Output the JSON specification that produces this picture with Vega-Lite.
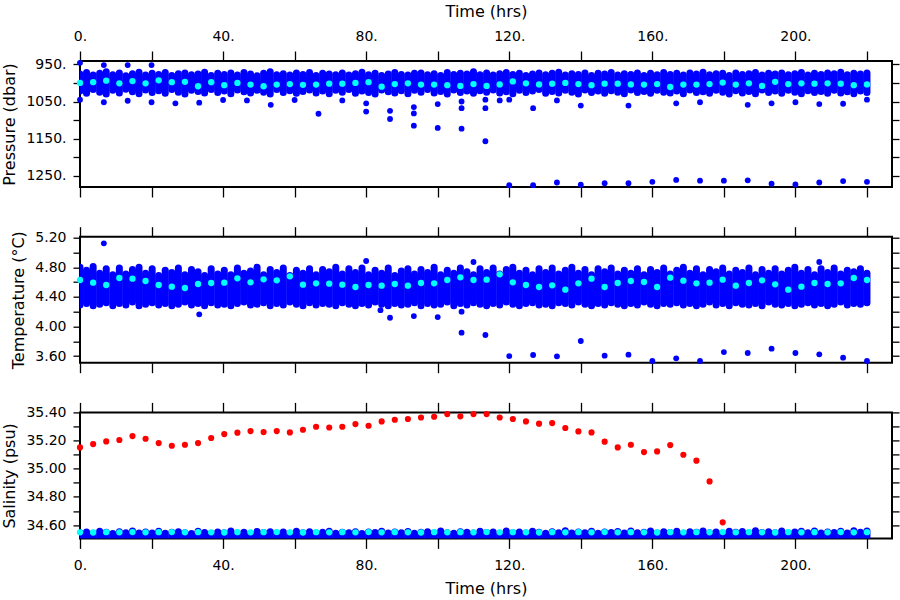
{
  "$schema": "https://vega.github.io/schema/vega-lite/v6.json",
  "padding": {"left": 0, "top": 2, "right": 0, "bottom": 0},
  "background": "white",
  "spacing": 49.7,
  "bounds": "flush",
  "config": {
    "view": {"stroke": "black", "strokeWidth": 2},
    "axis": {"labelFont": "DejaVu Sans", "labelFontSize": 14, "labelColor": "black", "titleFont": "DejaVu Sans", "titleFontSize": 16, "titleFontWeight": "normal", "titleColor": "black", "tickColor": "black", "tickWidth": 1.3, "grid": false, "domain": false, "labelOverlap": false, "labelFlush": false}
  },
  "datasets": {
    "band": [
      {"t":0,"plo":976,"phi":1022,"tlo":4.29,"thi":4.80,"shi":34.545},
      {"t":1.83,"plo":972,"phi":1028,"tlo":4.31,"thi":4.76,"shi":34.550},
      {"t":3.67,"plo":979,"phi":1018,"tlo":4.28,"thi":4.81,"shi":34.542},
      {"t":5.5,"plo":974,"phi":1025,"tlo":4.30,"thi":4.72,"shi":34.555},
      {"t":7.33,"plo":970,"phi":1030,"tlo":4.32,"thi":4.78,"shi":34.548},
      {"t":9.17,"plo":978,"phi":1020,"tlo":4.28,"thi":4.70,"shi":34.540},
      {"t":11,"plo":973,"phi":1027,"tlo":4.31,"thi":4.79,"shi":34.552},
      {"t":12.83,"plo":981,"phi":1017,"tlo":4.29,"thi":4.71,"shi":34.546},
      {"t":14.67,"plo":975,"phi":1024,"tlo":4.33,"thi":4.77,"shi":34.558},
      {"t":16.5,"plo":971,"phi":1029,"tlo":4.28,"thi":4.80,"shi":34.543},
      {"t":18.33,"plo":979,"phi":1019,"tlo":4.30,"thi":4.72,"shi":34.550},
      {"t":20.17,"plo":974,"phi":1026,"tlo":4.32,"thi":4.78,"shi":34.544},
      {"t":22,"plo":977,"phi":1021,"tlo":4.29,"thi":4.69,"shi":34.556},
      {"t":23.83,"plo":972,"phi":1028,"tlo":4.31,"thi":4.76,"shi":34.541},
      {"t":25.67,"plo":980,"phi":1018,"tlo":4.28,"thi":4.73,"shi":34.549},
      {"t":27.5,"plo":975,"phi":1025,"tlo":4.30,"thi":4.79,"shi":34.553},
      {"t":29.33,"plo":973,"phi":1030,"tlo":4.33,"thi":4.70,"shi":34.545},
      {"t":31.17,"plo":978,"phi":1020,"tlo":4.29,"thi":4.77,"shi":34.540},
      {"t":33,"plo":976,"phi":1023,"tlo":4.31,"thi":4.74,"shi":34.555},
      {"t":34.83,"plo":971,"phi":1027,"tlo":4.28,"thi":4.69,"shi":34.547},
      {"t":36.67,"plo":980,"phi":1018,"tlo":4.32,"thi":4.78,"shi":34.542},
      {"t":38.5,"plo":974,"phi":1026,"tlo":4.29,"thi":4.71,"shi":34.551},
      {"t":40.33,"plo":977,"phi":1022,"tlo":4.30,"thi":4.76,"shi":34.546},
      {"t":42.17,"plo":973,"phi":1029,"tlo":4.28,"thi":4.70,"shi":34.557},
      {"t":44,"plo":979,"phi":1019,"tlo":4.31,"thi":4.79,"shi":34.543},
      {"t":45.83,"plo":972,"phi":1024,"tlo":4.33,"thi":4.72,"shi":34.549},
      {"t":47.67,"plo":976,"phi":1027,"tlo":4.29,"thi":4.75,"shi":34.540},
      {"t":49.5,"plo":981,"phi":1020,"tlo":4.30,"thi":4.80,"shi":34.554},
      {"t":51.33,"plo":974,"phi":1025,"tlo":4.32,"thi":4.70,"shi":34.547},
      {"t":53.17,"plo":970,"phi":1030,"tlo":4.28,"thi":4.77,"shi":34.552},
      {"t":55,"plo":978,"phi":1018,"tlo":4.31,"thi":4.73,"shi":34.544},
      {"t":56.83,"plo":975,"phi":1026,"tlo":4.29,"thi":4.79,"shi":34.550},
      {"t":58.67,"plo":979,"phi":1021,"tlo":4.33,"thi":4.69,"shi":34.541},
      {"t":60.5,"plo":973,"phi":1028,"tlo":4.30,"thi":4.76,"shi":34.556},
      {"t":62.33,"plo":977,"phi":1023,"tlo":4.28,"thi":4.72,"shi":34.546},
      {"t":64.17,"plo":972,"phi":1019,"tlo":4.32,"thi":4.78,"shi":34.552},
      {"t":66,"plo":980,"phi":1027,"tlo":4.29,"thi":4.70,"shi":34.543},
      {"t":67.83,"plo":974,"phi":1022,"tlo":4.31,"thi":4.77,"shi":34.548},
      {"t":69.67,"plo":976,"phi":1029,"tlo":4.30,"thi":4.74,"shi":34.555},
      {"t":71.5,"plo":978,"phi":1020,"tlo":4.28,"thi":4.80,"shi":34.541},
      {"t":73.33,"plo":973,"phi":1025,"tlo":4.32,"thi":4.71,"shi":34.549},
      {"t":75.17,"plo":979,"phi":1018,"tlo":4.30,"thi":4.78,"shi":34.545},
      {"t":77,"plo":975,"phi":1028,"tlo":4.28,"thi":4.73,"shi":34.553},
      {"t":78.83,"plo":971,"phi":1022,"tlo":4.31,"thi":4.79,"shi":34.540},
      {"t":80.67,"plo":978,"phi":1026,"tlo":4.29,"thi":4.70,"shi":34.551},
      {"t":82.5,"plo":974,"phi":1030,"tlo":4.33,"thi":4.76,"shi":34.547},
      {"t":84.33,"plo":980,"phi":1019,"tlo":4.30,"thi":4.72,"shi":34.556},
      {"t":86.17,"plo":976,"phi":1024,"tlo":4.28,"thi":4.79,"shi":34.543},
      {"t":88,"plo":972,"phi":1027,"tlo":4.31,"thi":4.69,"shi":34.550},
      {"t":89.83,"plo":977,"phi":1021,"tlo":4.29,"thi":4.75,"shi":34.545},
      {"t":91.67,"plo":979,"phi":1029,"tlo":4.30,"thi":4.78,"shi":34.554},
      {"t":93.5,"plo":974,"phi":1020,"tlo":4.32,"thi":4.71,"shi":34.542},
      {"t":95.33,"plo":973,"phi":1025,"tlo":4.28,"thi":4.77,"shi":34.548},
      {"t":97.17,"plo":978,"phi":1018,"tlo":4.31,"thi":4.73,"shi":34.552},
      {"t":99,"plo":975,"phi":1027,"tlo":4.29,"thi":4.80,"shi":34.544},
      {"t":100.83,"plo":980,"phi":1023,"tlo":4.30,"thi":4.70,"shi":34.557},
      {"t":102.67,"plo":972,"phi":1030,"tlo":4.33,"thi":4.76,"shi":34.546},
      {"t":104.5,"plo":977,"phi":1019,"tlo":4.28,"thi":4.72,"shi":34.541},
      {"t":106.33,"plo":974,"phi":1026,"tlo":4.31,"thi":4.79,"shi":34.553},
      {"t":108.17,"plo":976,"phi":1022,"tlo":4.29,"thi":4.74,"shi":34.548},
      {"t":110,"plo":970,"phi":1028,"tlo":4.32,"thi":4.70,"shi":34.543},
      {"t":111.83,"plo":978,"phi":1021,"tlo":4.30,"thi":4.78,"shi":34.555},
      {"t":113.67,"plo":973,"phi":1025,"tlo":4.28,"thi":4.73,"shi":34.547},
      {"t":115.5,"plo":979,"phi":1019,"tlo":4.31,"thi":4.79,"shi":34.551},
      {"t":117.33,"plo":975,"phi":1027,"tlo":4.29,"thi":4.71,"shi":34.542},
      {"t":119.17,"plo":972,"phi":1024,"tlo":4.33,"thi":4.77,"shi":34.558},
      {"t":121,"plo":977,"phi":1029,"tlo":4.30,"thi":4.80,"shi":34.545},
      {"t":122.83,"plo":974,"phi":1020,"tlo":4.28,"thi":4.72,"shi":34.550},
      {"t":124.67,"plo":980,"phi":1026,"tlo":4.31,"thi":4.76,"shi":34.544},
      {"t":126.5,"plo":976,"phi":1022,"tlo":4.32,"thi":4.70,"shi":34.556},
      {"t":128.33,"plo":973,"phi":1018,"tlo":4.29,"thi":4.78,"shi":34.548},
      {"t":130.17,"plo":978,"phi":1028,"tlo":4.30,"thi":4.73,"shi":34.541},
      {"t":132,"plo":974,"phi":1023,"tlo":4.28,"thi":4.79,"shi":34.553},
      {"t":133.83,"plo":971,"phi":1027,"tlo":4.32,"thi":4.71,"shi":34.546},
      {"t":135.67,"plo":979,"phi":1020,"tlo":4.31,"thi":4.76,"shi":34.559},
      {"t":137.5,"plo":975,"phi":1025,"tlo":4.29,"thi":4.80,"shi":34.543},
      {"t":139.33,"plo":977,"phi":1030,"tlo":4.33,"thi":4.72,"shi":34.550},
      {"t":141.17,"plo":973,"phi":1019,"tlo":4.30,"thi":4.77,"shi":34.545},
      {"t":143,"plo":980,"phi":1026,"tlo":4.28,"thi":4.70,"shi":34.556},
      {"t":144.83,"plo":974,"phi":1022,"tlo":4.31,"thi":4.78,"shi":34.542},
      {"t":146.67,"plo":976,"phi":1028,"tlo":4.29,"thi":4.74,"shi":34.551},
      {"t":148.5,"plo":972,"phi":1021,"tlo":4.32,"thi":4.79,"shi":34.547},
      {"t":150.33,"plo":979,"phi":1025,"tlo":4.30,"thi":4.71,"shi":34.554},
      {"t":152.17,"plo":975,"phi":1029,"tlo":4.28,"thi":4.76,"shi":34.543},
      {"t":154,"plo":977,"phi":1019,"tlo":4.31,"thi":4.72,"shi":34.557},
      {"t":155.83,"plo":973,"phi":1026,"tlo":4.29,"thi":4.78,"shi":34.546},
      {"t":157.67,"plo":980,"phi":1023,"tlo":4.33,"thi":4.70,"shi":34.549},
      {"t":159.5,"plo":974,"phi":1028,"tlo":4.30,"thi":4.77,"shi":34.558},
      {"t":161.33,"plo":978,"phi":1020,"tlo":4.28,"thi":4.73,"shi":34.544},
      {"t":163.17,"plo":972,"phi":1025,"tlo":4.31,"thi":4.79,"shi":34.552},
      {"t":165,"plo":977,"phi":1027,"tlo":4.30,"thi":4.71,"shi":34.547},
      {"t":166.83,"plo":974,"phi":1022,"tlo":4.32,"thi":4.76,"shi":34.555},
      {"t":168.67,"plo":979,"phi":1029,"tlo":4.29,"thi":4.80,"shi":34.542},
      {"t":170.5,"plo":973,"phi":1019,"tlo":4.31,"thi":4.72,"shi":34.553},
      {"t":172.33,"plo":976,"phi":1026,"tlo":4.28,"thi":4.78,"shi":34.548},
      {"t":174.17,"plo":971,"phi":1024,"tlo":4.30,"thi":4.70,"shi":34.558},
      {"t":176,"plo":978,"phi":1028,"tlo":4.33,"thi":4.77,"shi":34.545},
      {"t":177.83,"plo":975,"phi":1020,"tlo":4.29,"thi":4.74,"shi":34.551},
      {"t":179.67,"plo":974,"phi":1025,"tlo":4.31,"thi":4.79,"shi":34.543},
      {"t":181.5,"plo":980,"phi":1030,"tlo":4.28,"thi":4.71,"shi":34.556},
      {"t":183.33,"plo":973,"phi":1021,"tlo":4.32,"thi":4.76,"shi":34.549},
      {"t":185.17,"plo":977,"phi":1027,"tlo":4.30,"thi":4.73,"shi":34.554},
      {"t":187,"plo":975,"phi":1023,"tlo":4.29,"thi":4.79,"shi":34.544},
      {"t":188.83,"plo":972,"phi":1029,"tlo":4.31,"thi":4.70,"shi":34.559},
      {"t":190.67,"plo":979,"phi":1019,"tlo":4.28,"thi":4.77,"shi":34.547},
      {"t":192.5,"plo":974,"phi":1026,"tlo":4.33,"thi":4.72,"shi":34.552},
      {"t":194.33,"plo":976,"phi":1022,"tlo":4.30,"thi":4.78,"shi":34.545},
      {"t":196.17,"plo":973,"phi":1028,"tlo":4.29,"thi":4.71,"shi":34.557},
      {"t":198,"plo":978,"phi":1020,"tlo":4.31,"thi":4.76,"shi":34.543},
      {"t":199.83,"plo":975,"phi":1025,"tlo":4.28,"thi":4.80,"shi":34.550},
      {"t":201.67,"plo":972,"phi":1029,"tlo":4.30,"thi":4.72,"shi":34.555},
      {"t":203.5,"plo":979,"phi":1021,"tlo":4.32,"thi":4.77,"shi":34.546},
      {"t":205.33,"plo":974,"phi":1026,"tlo":4.29,"thi":4.70,"shi":34.558},
      {"t":207.17,"plo":977,"phi":1023,"tlo":4.31,"thi":4.78,"shi":34.544},
      {"t":209,"plo":973,"phi":1028,"tlo":4.28,"thi":4.73,"shi":34.551},
      {"t":210.83,"plo":975,"phi":1020,"tlo":4.30,"thi":4.79,"shi":34.547},
      {"t":212.67,"plo":971,"phi":1027,"tlo":4.33,"thi":4.71,"shi":34.556},
      {"t":214.5,"plo":978,"phi":1024,"tlo":4.29,"thi":4.76,"shi":34.543},
      {"t":216.33,"plo":974,"phi":1029,"tlo":4.31,"thi":4.74,"shi":34.559},
      {"t":218.17,"plo":976,"phi":1022,"tlo":4.30,"thi":4.78,"shi":34.548},
      {"t":220,"plo":973,"phi":1026,"tlo":4.32,"thi":4.72,"shi":34.557}
    ],
    "cyan": [
      {"t":0,"p":1000,"tc":4.628,"s":34.548},
      {"t":3.67,"p":998,"tc":4.592,"s":34.547},
      {"t":7.33,"p":994,"tc":4.56,"s":34.549},
      {"t":11,"p":1001,"tc":4.655,"s":34.548},
      {"t":14.67,"p":995,"tc":4.646,"s":34.55},
      {"t":18.33,"p":1001,"tc":4.614,"s":34.548},
      {"t":22,"p":993,"tc":4.56,"s":34.549},
      {"t":25.67,"p":998,"tc":4.538,"s":34.55},
      {"t":29.33,"p":997,"tc":4.52,"s":34.548},
      {"t":33,"p":1009,"tc":4.574,"s":34.549},
      {"t":36.67,"p":998,"tc":4.587,"s":34.548},
      {"t":40.33,"p":1006,"tc":4.592,"s":34.547},
      {"t":44,"p":1000,"tc":4.65,"s":34.549},
      {"t":47.67,"p":1004.5,"tc":4.596,"s":34.548},
      {"t":51.33,"p":1009,"tc":4.637,"s":34.549},
      {"t":55,"p":1004.5,"tc":4.623,"s":34.55},
      {"t":58.67,"p":1003,"tc":4.677,"s":34.548},
      {"t":62.33,"p":1005,"tc":4.565,"s":34.547},
      {"t":66,"p":1004.5,"tc":4.583,"s":34.549},
      {"t":69.67,"p":1002,"tc":4.578,"s":34.548},
      {"t":73.33,"p":1002,"tc":4.565,"s":34.549},
      {"t":77,"p":1000,"tc":4.533,"s":34.548},
      {"t":80.67,"p":998,"tc":4.56,"s":34.55},
      {"t":84.33,"p":1010,"tc":4.551,"s":34.548},
      {"t":88,"p":1003,"tc":4.574,"s":34.549},
      {"t":91.67,"p":1001,"tc":4.551,"s":34.548},
      {"t":95.33,"p":1004.5,"tc":4.587,"s":34.547},
      {"t":99,"p":1004.5,"tc":4.583,"s":34.549},
      {"t":102.67,"p":1006,"tc":4.628,"s":34.548},
      {"t":106.33,"p":1008,"tc":4.664,"s":34.549},
      {"t":110,"p":1003,"tc":4.628,"s":34.548},
      {"t":113.67,"p":1008,"tc":4.632,"s":34.55},
      {"t":117.33,"p":1004,"tc":4.704,"s":34.548},
      {"t":121,"p":996,"tc":4.596,"s":34.549},
      {"t":124.67,"p":1001,"tc":4.56,"s":34.548},
      {"t":128.33,"p":1004,"tc":4.533,"s":34.547},
      {"t":132,"p":1002,"tc":4.556,"s":34.549},
      {"t":135.67,"p":1000,"tc":4.497,"s":34.548},
      {"t":139.33,"p":1003,"tc":4.583,"s":34.549},
      {"t":143,"p":1006,"tc":4.646,"s":34.548},
      {"t":146.67,"p":1002,"tc":4.533,"s":34.55},
      {"t":150.33,"p":1002,"tc":4.587,"s":34.548},
      {"t":154,"p":1004,"tc":4.614,"s":34.549},
      {"t":157.67,"p":1004.5,"tc":4.601,"s":34.548},
      {"t":161.33,"p":1003,"tc":4.533,"s":34.547},
      {"t":165,"p":1011,"tc":4.659,"s":34.549},
      {"t":168.67,"p":1004.5,"tc":4.619,"s":34.548},
      {"t":172.33,"p":1004.5,"tc":4.583,"s":34.549},
      {"t":176,"p":1003,"tc":4.592,"s":34.548},
      {"t":179.67,"p":999,"tc":4.632,"s":34.55},
      {"t":183.33,"p":1004.5,"tc":4.551,"s":34.548},
      {"t":187,"p":1001,"tc":4.587,"s":34.549},
      {"t":190.67,"p":1008,"tc":4.623,"s":34.548},
      {"t":194.33,"p":997,"tc":4.569,"s":34.547},
      {"t":198,"p":1003,"tc":4.497,"s":34.549},
      {"t":201.67,"p":1001,"tc":4.538,"s":34.548},
      {"t":205.33,"p":1002,"tc":4.587,"s":34.549},
      {"t":209,"p":1001,"tc":4.574,"s":34.548},
      {"t":212.67,"p":1002,"tc":4.583,"s":34.55},
      {"t":216.33,"p":1006,"tc":4.655,"s":34.548},
      {"t":220,"p":1004,"tc":4.628,"s":34.549}
    ],
    "red": [
      {"t":0,"s":35.151},{"t":3.67,"s":35.175},{"t":7.33,"s":35.194},{"t":11,"s":35.204},{"t":14.67,"s":35.232},
      {"t":18.33,"s":35.213},{"t":22,"s":35.182},{"t":25.67,"s":35.163},{"t":29.33,"s":35.17},{"t":33,"s":35.182},
      {"t":36.67,"s":35.218},{"t":40.33,"s":35.246},{"t":44,"s":35.256},{"t":47.67,"s":35.267},{"t":51.33,"s":35.26},
      {"t":55,"s":35.267},{"t":58.67,"s":35.258},{"t":62.33,"s":35.277},{"t":66,"s":35.298},{"t":69.67,"s":35.293},
      {"t":73.33,"s":35.298},{"t":77,"s":35.317},{"t":80.67,"s":35.305},{"t":84.33,"s":35.336},{"t":88,"s":35.348},
      {"t":91.67,"s":35.353},{"t":95.33,"s":35.364},{"t":99,"s":35.369},{"t":102.67,"s":35.388},{"t":106.33,"s":35.372},
      {"t":110,"s":35.388},{"t":113.67,"s":35.388},{"t":117.33,"s":35.364},{"t":121,"s":35.353},{"t":124.67,"s":35.336},
      {"t":128.33,"s":35.32},{"t":132,"s":35.324},{"t":135.67,"s":35.289},{"t":139.33,"s":35.265},{"t":143,"s":35.258},
      {"t":146.67,"s":35.192},{"t":150.33,"s":35.151},{"t":154,"s":35.17},{"t":157.67,"s":35.118},{"t":161.33,"s":35.123},
      {"t":165,"s":35.168},{"t":168.67,"s":35.099},{"t":172.33,"s":35.057},{"t":176,"s":34.91},{"t":179.67,"s":34.619}
    ],
    "pout": [
      {"t":0,"p":946},{"t":0,"p":1045},{"t":6.67,"p":952},{"t":6.67,"p":1052},{"t":13.33,"p":952},{"t":13.33,"p":1048},
      {"t":20,"p":952},{"t":20,"p":1052},{"t":26.67,"p":1055},{"t":33.33,"p":1053},{"t":40,"p":1046},{"t":46.67,"p":1047},
      {"t":53.33,"p":1059},{"t":60,"p":1046},{"t":66.67,"p":1083},{"t":73.33,"p":1047},{"t":80,"p":1077},{"t":80,"p":1055},
      {"t":86.67,"p":1097},{"t":86.67,"p":1075},{"t":93.33,"p":1115},{"t":93.33,"p":1082},{"t":93.33,"p":1065},
      {"t":100,"p":1121},{"t":100,"p":1057},{"t":106.67,"p":1123},{"t":106.67,"p":1068},{"t":106.67,"p":1050},
      {"t":113.33,"p":1157},{"t":113.33,"p":1068},{"t":113.33,"p":1045},{"t":117.33,"p":1047},
      {"t":120,"p":1275},{"t":120,"p":1045},{"t":126.67,"p":1275},{"t":126.67,"p":1068},{"t":133.33,"p":1268},{"t":133.33,"p":1047},
      {"t":140,"p":1274},{"t":140,"p":1061},{"t":146.67,"p":1270},{"t":153.33,"p":1270},{"t":153.33,"p":1061},
      {"t":160,"p":1266},{"t":166.67,"p":1261},{"t":166.67,"p":1055},{"t":173.33,"p":1263},{"t":173.33,"p":1052},
      {"t":180,"p":1263},{"t":186.67,"p":1262},{"t":186.67,"p":1059},{"t":193.33,"p":1271},{"t":193.33,"p":1055},
      {"t":200,"p":1273},{"t":200,"p":1052},{"t":206.67,"p":1268},{"t":206.67,"p":1057},{"t":213.33,"p":1264},{"t":213.33,"p":1056},
      {"t":220,"p":1266},{"t":220,"p":1045}
    ],
    "tout": [
      {"t":6.67,"v":5.123},{"t":33.33,"v":4.164},{"t":80,"v":4.885},{"t":84,"v":4.22},{"t":86.67,"v":4.118},
      {"t":93.33,"v":4.14},{"t":100,"v":4.127},{"t":106.67,"v":3.916},{"t":106.67,"v":4.2},{"t":110,"v":4.871},
      {"t":113.33,"v":3.884},{"t":120,"v":3.6},{"t":126.67,"v":3.614},{"t":133.33,"v":3.596},{"t":140,"v":3.803},
      {"t":146.67,"v":3.605},{"t":153.33,"v":3.619},{"t":160,"v":3.533},{"t":166.67,"v":3.569},{"t":173.33,"v":3.533},
      {"t":180,"v":3.654},{"t":186.67,"v":3.641},{"t":193.33,"v":3.7},{"t":200,"v":3.641},{"t":206.67,"v":3.623},
      {"t":206.67,"v":4.871},{"t":213.33,"v":3.578},{"t":220,"v":3.533}
    ]
  },
  "vconcat": [
    {
      "width": 812, "height": 126,
      "resolve": {"axis": {"x": "independent", "y": "independent"}},
      "layer": [
        {
          "data": {"name": "band"},
          "mark": {"type": "rule", "color": "#0000ff", "strokeWidth": 7, "strokeCap": "round", "clip": true},
          "encoding": {
            "x": {"field": "t", "type": "quantitative", "scale": {"domain": [0, 227], "nice": false, "zero": false},
                  "axis": {"orient": "top", "values": [0,20,40,60,80,100,120,140,160,180,200,220], "labelExpr": "datum.value % 40 == 0 ? datum.value + '.' : ''", "title": "Time (hrs)", "tickSize": 10, "labelPadding": 8, "titlePadding": 10}},
            "y": {"field": "plo", "type": "quantitative", "scale": {"domain": [941, 1280], "reverse": true, "nice": false, "zero": false},
                  "axis": {"orient": "left", "values": [950,1000,1050,1100,1150,1200,1250], "labelExpr": "(datum.value - 950) % 100 == 0 ? datum.value + '.' : ''", "title": "Pressure (dbar)", "tickSize": 7, "labelPadding": 7, "titlePadding": 8}},
            "y2": {"field": "phi"}
          }
        },
        {
          "data": {"name": "pout"},
          "mark": {"type": "circle", "color": "#0000ff", "size": 34, "opacity": 1},
          "encoding": {
            "x": {"field": "t", "type": "quantitative", "scale": {"domain": [0, 227], "nice": false, "zero": false},
                  "axis": {"orient": "bottom", "values": [0,20,40,60,80,100,120,140,160,180,200,220], "labels": false, "title": null, "tickSize": 10}},
            "y": {"field": "p", "type": "quantitative", "scale": {"domain": [941, 1280], "reverse": true, "nice": false, "zero": false},
                  "axis": {"orient": "right", "values": [950,1000,1050,1100,1150,1200,1250], "labels": false, "title": null, "tickSize": 7}}
          }
        },
        {
          "data": {"name": "cyan"},
          "mark": {"type": "circle", "color": "#00ffff", "size": 40, "opacity": 1},
          "encoding": {
            "x": {"field": "t", "type": "quantitative", "scale": {"domain": [0, 227], "nice": false, "zero": false}, "axis": null},
            "y": {"field": "p", "type": "quantitative", "scale": {"domain": [941, 1280], "reverse": true, "nice": false, "zero": false}, "axis": null}
          }
        }
      ]
    },
    {
      "width": 812, "height": 126,
      "resolve": {"axis": {"x": "independent", "y": "independent"}},
      "layer": [
        {
          "data": {"name": "band"},
          "mark": {"type": "rule", "color": "#0000ff", "strokeWidth": 7, "strokeCap": "round", "clip": true},
          "encoding": {
            "x": {"field": "t", "type": "quantitative", "scale": {"domain": [0, 227], "nice": false, "zero": false},
                  "axis": {"orient": "top", "values": [0,20,40,60,80,100,120,140,160,180,200,220], "labels": false, "title": null, "tickSize": 10}},
            "y": {"field": "tlo", "type": "quantitative", "scale": {"domain": [3.51, 5.213], "nice": false, "zero": false},
                  "axis": {"orient": "left", "values": [3.6,3.8,4.0,4.2,4.4,4.6,4.8,5.0,5.2], "labelExpr": "round(datum.value * 10) % 4 == 0 ? format(datum.value, '.2f') : ''", "title": "Temperature (°C)", "tickSize": 7, "labelPadding": 7, "titlePadding": 8}},
            "y2": {"field": "thi"}
          }
        },
        {
          "data": {"name": "tout"},
          "mark": {"type": "circle", "color": "#0000ff", "size": 34, "opacity": 1},
          "encoding": {
            "x": {"field": "t", "type": "quantitative", "scale": {"domain": [0, 227], "nice": false, "zero": false},
                  "axis": {"orient": "bottom", "values": [0,20,40,60,80,100,120,140,160,180,200,220], "labels": false, "title": null, "tickSize": 10}},
            "y": {"field": "v", "type": "quantitative", "scale": {"domain": [3.51, 5.213], "nice": false, "zero": false},
                  "axis": {"orient": "right", "values": [3.6,3.8,4.0,4.2,4.4,4.6,4.8,5.0,5.2], "labels": false, "title": null, "tickSize": 7}}
          }
        },
        {
          "data": {"name": "cyan"},
          "mark": {"type": "circle", "color": "#00ffff", "size": 40, "opacity": 1},
          "encoding": {
            "x": {"field": "t", "type": "quantitative", "scale": {"domain": [0, 227], "nice": false, "zero": false}, "axis": null},
            "y": {"field": "tc", "type": "quantitative", "scale": {"domain": [3.51, 5.213], "nice": false, "zero": false}, "axis": null}
          }
        }
      ]
    },
    {
      "width": 812, "height": 126,
      "resolve": {"axis": {"x": "independent", "y": "independent"}},
      "layer": [
        {
          "data": {"name": "band"},
          "transform": [{"calculate": "34.49", "as": "slo"}],
          "mark": {"type": "rule", "color": "#0000ff", "strokeWidth": 7, "strokeCap": "round", "clip": true},
          "encoding": {
            "x": {"field": "t", "type": "quantitative", "scale": {"domain": [0, 227], "nice": false, "zero": false},
                  "axis": {"orient": "bottom", "values": [0,20,40,60,80,100,120,140,160,180,200,220], "labelExpr": "datum.value % 40 == 0 ? datum.value + '.' : ''", "title": "Time (hrs)", "tickSize": 10, "labelPadding": 10, "titlePadding": 8}},
            "y": {"field": "slo", "type": "quantitative", "scale": {"domain": [34.505, 35.4], "nice": false, "zero": false},
                  "axis": {"orient": "left", "values": [34.6,34.7,34.8,34.9,35.0,35.1,35.2,35.3,35.4], "labelExpr": "round(datum.value * 10) % 2 == 0 ? format(datum.value, '.2f') : ''", "title": "Salinity (psu)", "tickSize": 7, "labelPadding": 7, "titlePadding": 8}},
            "y2": {"field": "shi"}
          }
        },
        {
          "data": {"name": "red"},
          "mark": {"type": "circle", "color": "#ff0000", "size": 38, "opacity": 1},
          "encoding": {
            "x": {"field": "t", "type": "quantitative", "scale": {"domain": [0, 227], "nice": false, "zero": false},
                  "axis": {"orient": "top", "values": [0,20,40,60,80,100,120,140,160,180,200,220], "labels": false, "title": null, "tickSize": 10}},
            "y": {"field": "s", "type": "quantitative", "scale": {"domain": [34.505, 35.4], "nice": false, "zero": false},
                  "axis": {"orient": "right", "values": [34.6,34.7,34.8,34.9,35.0,35.1,35.2,35.3,35.4], "labels": false, "title": null, "tickSize": 7}}
          }
        },
        {
          "data": {"name": "cyan"},
          "mark": {"type": "circle", "color": "#00ffff", "size": 40, "opacity": 1},
          "encoding": {
            "x": {"field": "t", "type": "quantitative", "scale": {"domain": [0, 227], "nice": false, "zero": false}, "axis": null},
            "y": {"field": "s", "type": "quantitative", "scale": {"domain": [34.505, 35.4], "nice": false, "zero": false}, "axis": null}
          }
        }
      ]
    }
  ]
}
